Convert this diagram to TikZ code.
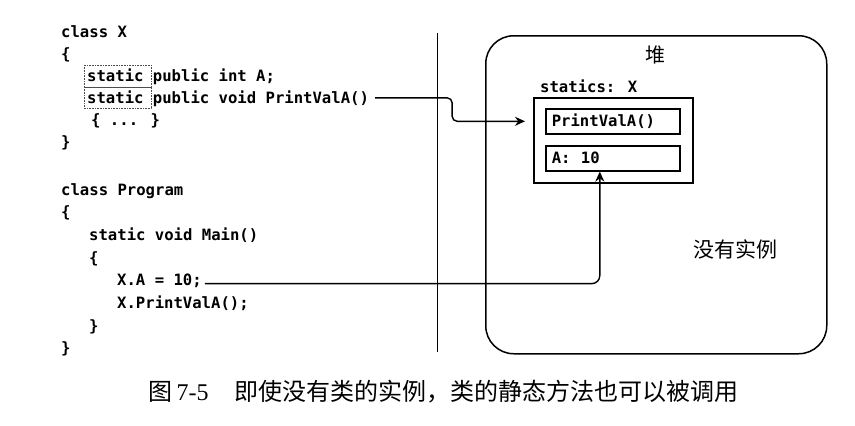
\documentclass[tikz,border=0pt]{standalone}
\usepackage{fontspec}
\newfontfamily\codefont{DejaVu Sans Mono Bold}
\newfontfamily\cjk{Noto Sans CJK SC}
\newfontfamily\capnum{Liberation Serif}
\usetikzlibrary{arrows.meta}
\newcommand\codesize{\codefont\fontsize{15.6}{18}\selectfont}
\tikzset{
	code/.style={font=\codesize, anchor=base west, inner sep=0pt},
	field/.style={draw, line width=1.6pt, anchor=north west, font=\codesize, text width=122pt, inner xsep=6pt, inner ysep=0pt, minimum height=25pt, align=left},
	statfrm/.style={densely dotted, line width=0.6pt, black!70},
	arrow/.style={-{Stealth[length=10pt,width=9pt]}, line width=1.4pt},
}
\begin{document}
\begin{tikzpicture}[x=1pt,y=-1pt]
	\useasboundingbox (0,0) rectangle (855,426);
	% class X
	\node[code] (cx1) at (61,37) {class X};
	\node[code] (cx2) at (61,59) {\{};
	\node[code] (cx3) at (87,81) {static public int A;};
	\node[code] (cx4) at (87,103) {static public void PrintValA()};
	\node[code] (cx5) at (91,125) {\{ ... \}};
	\node[code] (cx6) at (61,147) {\}};
	\draw[statfrm] (84,65) rectangle (151,87);
	\draw[statfrm] (84,87) rectangle (151,108);
	% class Program
	\node[code] (cp1) at (61,195) {class Program};
	\node[code] (cp2) at (61,217.7) {\{};
	\node[code] (cp3) at (89,240.4) {static void Main()};
	\node[code] (cp4) at (89,263.1) {\{};
	\node[code] (cp5) at (117,285.8) {X.A = 10;};
	\node[code] (cp6) at (117,308.5) {X.PrintValA();};
	\node[code] (cp7) at (89,331.2) {\}};
	\node[code] (cp8) at (61,353.9) {\}};
	\draw[line width=0.9pt] (437,33) -- (437,352);
	% heap
	\node[draw, line width=1.5pt, rounded corners=28pt, minimum width=341pt, minimum height=318pt, anchor=north west, inner sep=0pt] (heap) at (485,35) {};
	\node[font=\cjk\fontsize{20}{20}\selectfont] (heaplbl) at (655,55) {堆};
	\node[code] (stlbl) at (540,92) {statics: X};
	\node[draw, line width=2pt, minimum width=159pt, minimum height=85pt, anchor=north west, inner sep=0pt] (statics) at (533,97) {};
	\node[field] (pval) at (545,108) {PrintValA()};
	\node[field] (aval) at (545,145) {A:\ \ 10};
	\node[font=\cjk\fontsize{21}{21}\selectfont] (noinst) at (735,249) {没有实例};
	% arrows
	\path (statics.west |- pval.west) ++(-8,0) coordinate (ptip);
	\path (aval.south) ++(-13,0) coordinate (atip);
	\draw[arrow, rounded corners=5pt, shorten <=6pt] ([yshift=3pt]cx4.mid east) -- ++(83,0) |- (ptip);
	\draw[arrow, rounded corners=8pt, shorten <=3pt] (cp5.mid east) -| (atip);
	% caption
	\node[anchor=west, font=\fontsize{24}{26}\selectfont] (cap) at (145,392) {{\cjk 图}\hspace{4pt}{\capnum 7-5}\hspace{26pt}{\cjk 即使没有类的实例，类的静态方法也可以被调用}};
\end{tikzpicture}
\end{document}
